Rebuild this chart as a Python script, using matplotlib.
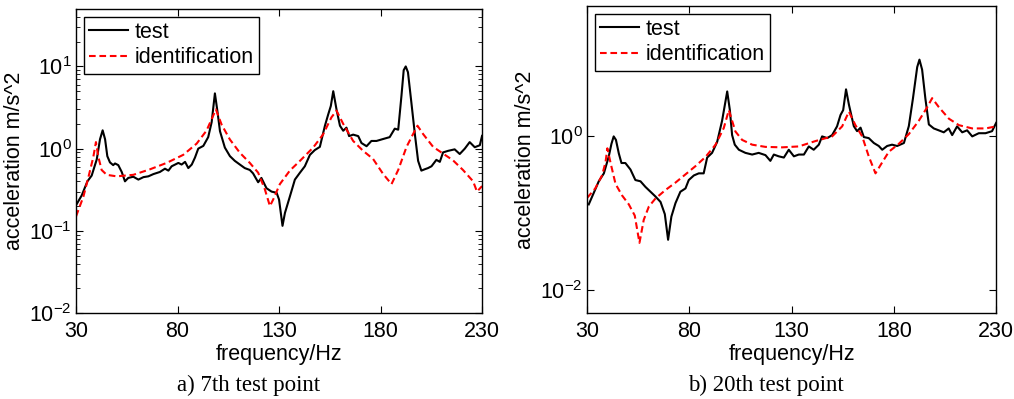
import numpy as np
import matplotlib
matplotlib.use("Agg")
import matplotlib.pyplot as plt
from matplotlib.ticker import FixedLocator, FixedFormatter, LogLocator, NullLocator

plt.rcParams['font.family'] = ['Liberation Sans', 'DejaVu Sans']
plt.rcParams['mathtext.fontset'] = 'custom'
plt.rcParams['mathtext.rm'] = 'Liberation Sans'

# ---- a) 7th test point ----
f7_test = [30, 32.8, 35.6, 37.7, 40.2, 41.8, 43.1, 44.3, 45.4, 46.7, 48.3, 49.2, 50.8, 52.5,
           54.1, 55.7, 58.2, 60.7, 63.2, 65.6, 68.1, 71.3, 73.8, 75.5, 77.1, 78.8, 80.4, 82.0,
           83.7, 85.3, 87.0, 88.6, 90.2, 92.7, 95.1, 96.8, 98.4, 99.6, 100.9, 103.3, 105.8,
           108.2, 110.7, 113.1, 115.6, 117.2, 119.7, 121.3, 123.8, 126.3, 128.8, 130.0, 131.7,
           132.9, 135.3, 137.8, 140.3, 142.7, 145.2, 147.6, 150.1, 152.6, 154.2, 155.5, 156.7,
           158.3, 160.0, 161.6, 163.2, 164.5, 166.5, 169.0, 170.6, 173.1, 175.5, 178.0, 181.3,
           184.5, 187.0, 188.7, 190.3, 191.4, 192.4, 193.5, 195.2, 196.9, 198.5, 200.1, 201.7,
           203.4, 205.1, 207.5, 209.2, 210.8, 213.3, 216.5, 219.0, 221.5, 223.9, 226.4, 228.9, 230]
a7_test = [0.205, 0.27, 0.40, 0.47, 0.74, 1.3, 1.67, 1.3, 0.81, 0.68, 0.63, 0.66, 0.63, 0.52,
           0.40, 0.44, 0.455, 0.42, 0.45, 0.46, 0.49, 0.52, 0.57, 0.54, 0.61, 0.64, 0.67, 0.64,
           0.69, 0.58, 0.64, 0.78, 1.0, 1.08, 1.38, 2.1, 4.7, 2.9, 1.63, 1.03, 0.81,
           0.71, 0.64, 0.58, 0.55, 0.50, 0.39, 0.44, 0.33, 0.30, 0.29, 0.24, 0.115,
           0.165, 0.26, 0.42, 0.51, 0.61, 0.84, 0.96, 1.05, 1.9, 2.6, 3.3, 5.0,
           3.0, 1.9, 1.65, 1.8, 1.42, 1.48, 1.42, 1.17, 1.07, 1.24, 1.24, 1.31,
           1.38, 1.75, 1.7, 4.4, 9.0, 10.0, 8.5, 3.6, 1.5, 0.71, 0.54, 0.56,
           0.58, 0.61, 0.73, 0.69, 0.90, 0.94, 0.98, 0.86, 1.0, 1.2, 1.04, 1.1, 1.43]

f7_ident = [30, 33.6, 36.1, 38.5, 39.8, 41.0, 42.6, 45.1, 50.0, 58.2, 66.4, 74.6, 82.8, 89.4,
            94.3, 98.9, 101.7, 105.8, 110.7, 115.6, 119.7, 123.0, 125.5, 127.1, 130.4, 135.3,
            140.3, 146.8, 151.7, 155.8, 158.3, 161.6, 166.5, 171.4, 176.3, 181.3, 185.4, 188.7,
            192.8, 196.0, 198.2, 201.0, 205.9, 210.8, 215.7, 220.6, 225.6, 227.5, 230]
a7_ident = [0.15, 0.26, 0.45, 0.79, 1.2, 0.79, 0.55, 0.48, 0.46, 0.48, 0.56, 0.67, 0.84, 1.15,
            1.66, 3.0, 1.96, 1.29, 0.89, 0.67, 0.51, 0.32, 0.20, 0.24, 0.37, 0.54,
            0.71, 1.03, 1.49, 2.4, 2.9, 2.0, 1.24, 0.94, 0.75, 0.49, 0.37, 0.55,
            1.05, 1.5, 1.9, 1.5, 1.05, 0.87, 0.72, 0.55, 0.40, 0.30, 0.35]

# ---- b) 20th test point ----
f20_test = [30.8, 33.3, 35.7, 38.2, 40.6, 41.9, 43.0, 44.1, 45.5, 46.8, 48.7, 51.2, 53.6, 56.1,
            58.5, 61.0, 63.4, 65.9, 68.0, 69.6, 71.2, 73.2, 75.6, 78.1, 79.7, 82.2, 84.6, 87.0,
            88.7, 91.1, 93.6, 96.0, 98.5, 99.8, 100.9, 102.2, 104.2, 107.4, 110.7, 113.9, 117.2,
            119.6, 121.3, 123.7, 126.2, 128.6, 131.1, 133.5, 136.0, 138.4, 140.8, 143.3, 144.9,
            147.4, 149.8, 152.2, 153.9, 155.2, 156.6, 158.0, 160.4, 162.0, 163.7, 165.3, 167.7,
            170.2, 172.6, 174.3, 176.7, 179.1, 181.6, 184.9, 187.3, 189.3, 191.4, 192.5, 193.8,
            195.4, 197.1, 199.5, 201.9, 204.4, 206.8, 208.5, 210.9, 213.4, 215.8, 218.3, 221.5,
            224.8, 228.0, 230]
a20_test = [0.13, 0.185, 0.26, 0.33, 0.55, 0.80, 1.0, 0.9, 0.60, 0.45, 0.45, 0.37, 0.27, 0.26,
            0.22, 0.19, 0.165, 0.14, 0.097, 0.045, 0.09, 0.135, 0.19, 0.21, 0.27, 0.31, 0.33, 0.33,
            0.53, 0.61, 0.85, 1.6, 3.85, 2.2, 1.04, 0.78, 0.67, 0.61, 0.58, 0.61, 0.57,
            0.48, 0.58, 0.55, 0.53, 0.67, 0.55, 0.58, 0.58, 0.74, 0.67, 0.78, 1.0,
            0.95, 1.04, 1.35, 1.9, 2.2, 4.1, 2.6, 1.36, 1.17, 1.3, 0.98, 0.95,
            0.82, 0.75, 0.67, 0.75, 0.78, 0.75, 0.82, 1.36, 3.1, 8.0, 10.0, 7.4,
            3.1, 1.43, 1.27, 1.2, 1.13, 1.27, 1.04, 1.35, 1.13, 1.2, 1.0, 1.1,
            1.1, 1.17, 1.5]

f20_ident = [30, 34.0, 37.3, 39.0, 39.9, 41.4, 43.9, 47.1, 50.4, 53.3, 55.6, 57.7, 60.2, 63.4,
             68.3, 73.2, 78.1, 83.0, 87.9, 92.8, 96.8, 99.3, 102.5, 105.8, 110.7, 117.2, 125.4,
             133.5, 141.7, 149.8, 154.7, 158.0, 161.2, 164.5, 167.7, 171.0, 173.4, 177.5, 182.4,
             187.3, 192.2, 196.3, 198.7, 202.0, 206.9, 211.8, 218.3, 224.8, 230]
a20_ident = [0.158, 0.21, 0.31, 0.46, 0.70, 0.46, 0.24, 0.17, 0.13, 0.093, 0.041, 0.082, 0.122, 0.155,
             0.20, 0.25, 0.32, 0.41, 0.54, 0.78, 1.28, 2.2, 1.16, 0.90, 0.78, 0.73, 0.72,
             0.74, 0.87, 1.0, 1.35, 2.1, 1.4, 1.0, 0.55, 0.33, 0.42, 0.63, 0.80,
             1.07, 1.6, 2.4, 3.15, 2.4, 1.7, 1.4, 1.27, 1.27, 1.35]

xticks = [30, 80, 130, 180, 230]

fig = plt.figure(figsize=(10.14, 3.99), dpi=100)
ax1 = fig.add_axes([0.075, 0.2155, 0.4004, 0.762])
ax2 = fig.add_axes([0.579, 0.2155, 0.4034, 0.7695])

panels = [
    (ax1, f7_test, a7_test, f7_ident, a7_ident, (0.01, 50), [0.01, 0.1, 1, 10],
     [r'$\mathregular{10^{-2}}$', r'$\mathregular{10^{-1}}$', r'$\mathregular{10^{0}}$', r'$\mathregular{10^{1}}$'], True),
    (ax2, f20_test, a20_test, f20_ident, a20_ident, (0.005, 50), [0.01, 1],
     [r'$\mathregular{10^{-2}}$', r'$\mathregular{10^{0}}$'], False),
]

for ax, ft, at, fi, ai, ylim, yt, ytl, minor in panels:
    ax.plot(ft, at, color='black', lw=1.5, label='test')
    ax.plot(fi, ai, color='red', lw=1.5, ls=(0, (3.2, 1.8)), label='identification')
    ax.set_yscale('log')
    ax.set_xlim(30, 230)
    ax.set_ylim(*ylim)
    ax.set_xticks(xticks)
    ax.set_xticklabels([str(t) for t in xticks])
    ax.yaxis.set_major_locator(FixedLocator(yt))
    ax.yaxis.set_major_formatter(FixedFormatter(ytl))
    if minor:
        ax.yaxis.set_minor_locator(LogLocator(base=10, subs=np.arange(2, 10)))
    else:
        ax.yaxis.set_minor_locator(NullLocator())
    ax.tick_params(which='both', direction='in', top=True, right=True, labelsize=15.5)
    ax.tick_params(which='major', length=5)
    ax.tick_params(axis='x', which='major', pad=6)
    ax.tick_params(axis='y', which='major', pad=3)
    ax.tick_params(which='minor', length=3)
    ax.set_xlabel('frequency/Hz', fontsize=15.5, labelpad=1)
    ax.set_ylabel('acceleration m/s^2', fontsize=15.5, labelpad=3)
    for s in ax.spines.values():
        s.set_linewidth(1.0)
    leg = ax.legend(loc='upper left', fontsize=15.5, fancybox=False, framealpha=1,
                    edgecolor='black', borderpad=0.25, handlelength=1.8, handletextpad=0.3,
                    labelspacing=0.2, borderaxespad=0.35)
    leg.get_frame().set_linewidth(1.0)

fig.text(0.245, 0.02, 'a) 7th test point', family='Liberation Serif', fontsize=16.5, ha='center')
fig.text(0.755, 0.02, 'b) 20th test point', family='Liberation Serif', fontsize=16.5, ha='center')

fig.savefig('out.png', dpi=100)
